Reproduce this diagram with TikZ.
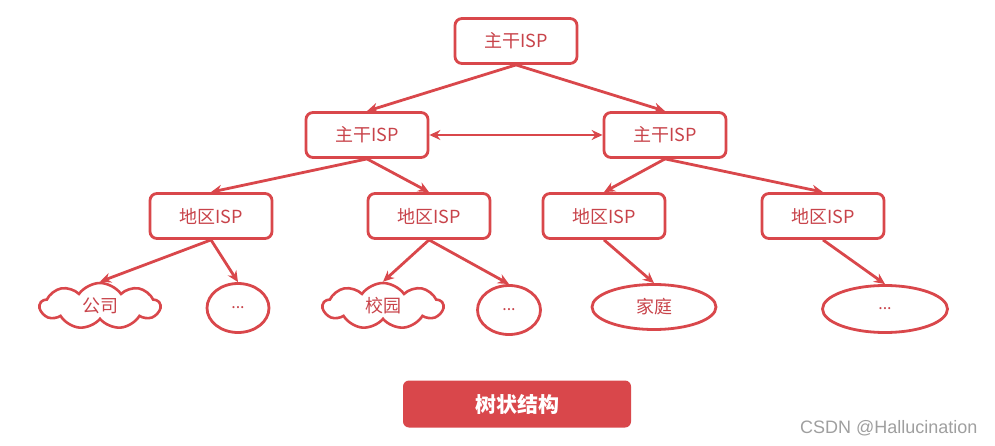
\documentclass[tikz,border=0pt]{standalone}
\usepackage{fontspec}
\setmainfont{Noto Sans CJK SC}
\newfontfamily\wmfont{Liberation Sans}
\usetikzlibrary{shapes.geometric,shapes.symbols,arrows.meta}

\definecolor{isred}{HTML}{D9474B}
\definecolor{istext}{HTML}{C8434A}

\tikzset{
  isp/.style={draw=isred, line width=2.8pt, rounded corners=7pt, fill=white,
    minimum width=122pt, minimum height=45pt, text=istext, font=\fontsize{18}{18}\selectfont},
  leafcloud/.style={cloud, cloud puffs=9, cloud puff arc=110, aspect=2.4, draw=isred,
    line width=2.6pt, minimum width=120pt, minimum height=46pt, inner sep=0pt,
    text=istext, font=\fontsize{18}{18}\selectfont},
  leafoval/.style={ellipse, draw=isred, line width=2.8pt, inner sep=0pt,
    text=istext, font=\fontsize{16}{16}\selectfont},
  link/.style={draw=isred, line width=2.8pt, -{Stealth[length=11pt,width=10pt]}},
}

\begin{document}
\begin{tikzpicture}[x=1pt, y=-1pt]
    \useasboundingbox (0,0) rectangle (995,446);

    % Backbone
    \node[isp] (top) at (516,41) {主干ISP};
    \node[isp] (bbL) at (367,135) {主干ISP};
    \node[isp] (bbR) at (665,135) {主干ISP};

    % Regional ISPs
    \node[isp] (regA) at (211,216) {地区ISP};
    \node[isp] (regB) at (429,216) {地区ISP};
    \node[isp] (regC) at (604,216) {地区ISP};
    \node[isp] (regD) at (823,216) {地区ISP};

    % Leaves
    \node[leafcloud] (company) at (100,306) {公司};
    \node[leafoval, minimum width=62pt, minimum height=49pt] (dotsA) at (238,308) {...};
    \node[leafcloud] (campus) at (383,306) {校园};
    \node[leafoval, minimum width=63pt, minimum height=49pt] (dotsB) at (509,310) {...};
    \node[leafoval, minimum width=124pt, minimum height=45pt, font=\fontsize{18}{18}\selectfont] (home) at (654,307) {家庭};
    \node[leafoval, minimum width=125pt, minimum height=47pt] (dotsC) at (885,309) {...};

    % Links
    \draw[link] (top.south) -- (bbL.north);
    \draw[link] (top.south) -- (bbR.north);
    \draw[draw=isred, line width=2.8pt, {Stealth[length=11pt,width=10pt]}-{Stealth[length=11pt,width=10pt]}] (bbL.east) -- (bbR.west);
    \draw[link] (bbL.south) -- (regA.north);
    \draw[link] (bbL.south) -- (regB.north);
    \draw[link] (bbR.south) -- (regC.north);
    \draw[link] (bbR.south) -- (regD.north);
    \draw[link] (regA.south) -- (company.north);
    \draw[link] (regA.south) -- (dotsA.north);
    \draw[link] (regB.south) -- (campus.north);
    \draw[link] (regB.south) -- (dotsB.north);
    \draw[link] (regC.south) -- (home.north);
    \draw[link] (regD.south) -- (dotsC.north);

    % Caption button
    \node[fill=isred, rounded corners=6pt, minimum width=228pt, minimum height=47pt,
      text=white, font=\fontsize{21}{21}\selectfont\bfseries] (caption) at (517,404) {树状结构};

    % Watermark
    \node[anchor=east, text=gray!75, font=\wmfont\fontsize{18}{18}\selectfont] (mark) at (981,428) {CSDN @Hallucination};
\end{tikzpicture}
\end{document}
